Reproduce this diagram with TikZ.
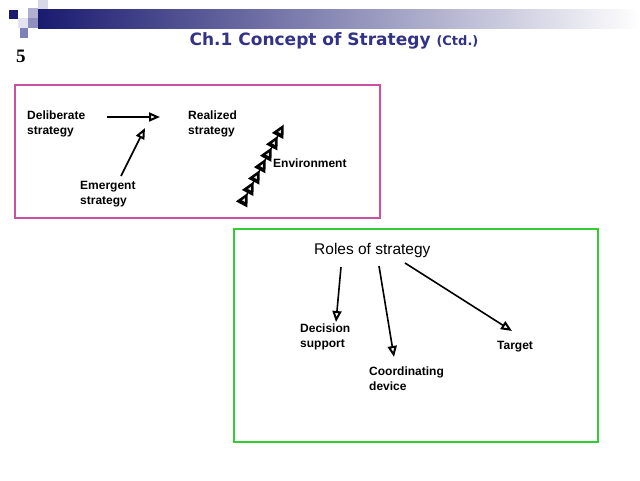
\documentclass[tikz,border=0pt]{standalone}
\usepackage{fontspec}
\setmainfont{Liberation Sans}
\newfontfamily\titlefont{DejaVu Sans}
\newfontfamily\numfont{Liberation Serif}
\usetikzlibrary{arrows.meta,calc}
\definecolor{navy}{RGB}{26,26,112}
\definecolor{titleblue}{RGB}{50,50,135}
\definecolor{pinkframe}{RGB}{204,80,160}
\definecolor{greenframe}{RGB}{51,204,51}
\definecolor{sqA}{RGB}{176,176,208}
\definecolor{sqB}{RGB}{216,216,232}
\definecolor{sqC}{RGB}{226,226,240}
\definecolor{sqD}{RGB}{144,144,192}
\definecolor{sqE}{RGB}{128,128,184}
\begin{document}
\begin{tikzpicture}[x=1pt,y=-1pt,
  lbl/.style={anchor=north west,inner sep=0pt,align=left,font=\fontsize{12}{15}\selectfont\bfseries},
  arr/.style={line width=1.6pt,-{Triangle[open,length=11pt,width=9pt,line width=2pt]}},
  frame/.style={line width=2pt}]
\useasboundingbox (0,0) rectangle (640,480);
% header decoration
\shade[left color=navy,right color=white,shading angle=90] (38,9) rectangle (640,28);
\fill[navy] (9,10) rectangle (18,19);
\fill[sqA] (28,8) rectangle (38,18);
\fill[sqB] (38,0) rectangle (48,9);
\fill[sqC] (18,18) rectangle (28,28);
\fill[sqD] (28,18) rectangle (38,28);
\fill[sqE] (20,28) rectangle (28,38);
% title
\node[anchor=base,inner sep=0pt,text=titleblue] (title) at (334,45)
  {\titlefont\bfseries\fontsize{17}{20}\selectfont Ch.1 Concept of Strategy {\fontsize{13}{16}\selectfont(Ctd.)}};
\node[anchor=base west,inner sep=0pt] (num) at (16,62) {\numfont\bfseries\fontsize{19}{22}\selectfont 5};
% frames
\draw[frame,pinkframe] (15,85) rectangle (380,218);
\draw[frame,greenframe] (234,229) rectangle (598,442);
% top box texts
\node[lbl] (delib) at (27,111) {Deliberate\\strategy};
\node[lbl] (real) at (188,111) {Realized\\strategy};
\node[lbl] (emerg) at (80,181) {Emergent\\strategy};
\node[lbl] (env) at (273,159) {Environment};
\coordinate (d1) at (107,117);
\coordinate (d2) at (160,117);
\coordinate (e1) at (121,176);
\coordinate (e2) at (145,128);
\draw[arr] (d1) -- (d2);
\draw[arr] (e1) -- (e2);
% environment arrowheads
\coordinate (envs) at (244,200);
\coordinate (enve) at (280,132);
\draw[line width=1.3pt] (envs) -- (enve);
\foreach \i in {0,...,6}{
  \begin{scope}[shift={({244+\i*6.0},{200-\i*11.4})},rotate=62]
    \fill[black,line join=round] (8,0) -- (-5,6.5) -- (-5,-6.5) -- cycle;
    \fill[white!75!gray] (2,0) -- (-1.2,1.6) -- (-1.2,-1.6) -- cycle;
  \end{scope}
}
% roles box
\node[anchor=north west,inner sep=0pt,font=\fontsize{15.5}{18}\selectfont] (roles) at (314,243) {Roles of strategy};
\node[lbl] (dec) at (300,324) {Decision\\support};
\node[lbl] (coord) at (369,367) {Coordinating\\device};
\node[lbl] (targ) at (497,341) {Target};
\coordinate (r1a) at (341,267);
\coordinate (r1b) at (336,322);
\coordinate (r2a) at (379,266);
\coordinate (r2b) at (394,357);
\coordinate (r3a) at (405,263);
\coordinate (r3b) at (512,331);
\draw[arr] (r1a) -- (r1b);
\draw[arr] (r2a) -- (r2b);
\draw[arr] (r3a) -- (r3b);
\end{tikzpicture}
\end{document}
